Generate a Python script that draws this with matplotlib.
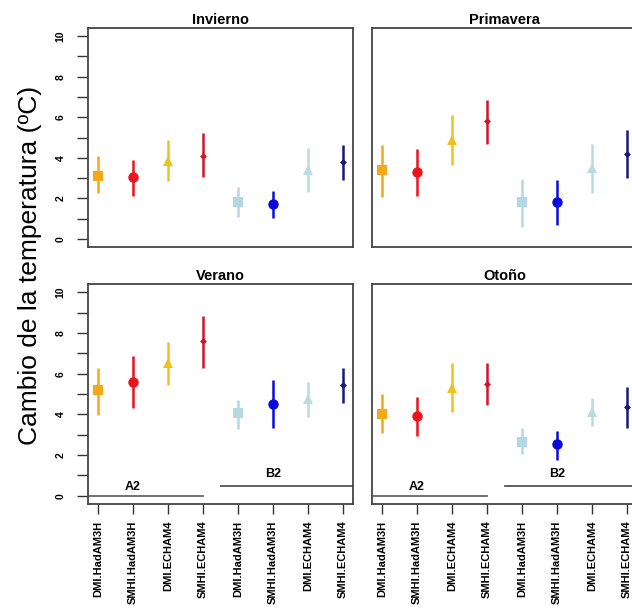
import numpy as np
import matplotlib
matplotlib.use("Agg")
import matplotlib.pyplot as plt

plt.rcParams["font.family"] = ["Liberation Sans", "DejaVu Sans"]

# Models (A2 first four, B2 last four)
models = ["DMI.HadAM3H", "SMHI.HadAM3H", "DMI.ECHAM4", "SMHI.ECHAM4",
          "DMI.HadAM3H", "SMHI.HadAM3H", "DMI.ECHAM4", "SMHI.ECHAM4"]
seasons = ["Invierno", "Primavera", "Verano", "Otoño"]

# central value and range for each season
invierno_mid = [3.1, 3.05, 3.85, 4.1, 1.8, 1.7, 3.4, 3.8]
invierno_lo = [2.25, 2.1, 2.85, 3.05, 1.1, 1.05, 2.3, 2.9]
invierno_hi = [4.1, 3.9, 4.9, 5.2, 2.55, 2.35, 4.5, 4.65]

primavera_mid = [3.4, 3.3, 4.9, 5.8, 1.8, 1.8, 3.5, 4.2]
primavera_lo = [2.05, 2.1, 3.65, 4.7, 0.6, 0.7, 2.25, 3.0]
primavera_hi = [4.65, 4.45, 6.1, 6.85, 2.95, 2.9, 4.7, 5.35]

verano_mid = [5.2, 5.6, 6.5, 7.6, 4.05, 4.5, 4.75, 5.45]
verano_lo = [3.95, 4.3, 5.45, 6.3, 3.3, 3.35, 3.85, 4.55]
verano_hi = [6.3, 6.85, 7.55, 8.85, 4.7, 5.7, 5.6, 6.3]

otono_mid = [4.0, 3.9, 5.3, 5.5, 2.65, 2.55, 4.1, 4.35]
otono_lo = [3.1, 2.95, 4.1, 4.45, 2.05, 1.75, 3.45, 3.35]
otono_hi = [5.0, 4.85, 6.5, 6.5, 3.35, 3.2, 4.8, 5.35]

mids = [invierno_mid, primavera_mid, verano_mid, otono_mid]
los = [invierno_lo, primavera_lo, verano_lo, otono_lo]
his = [invierno_hi, primavera_hi, verano_hi, otono_hi]

colors = ["#F5A818", "#E8141E", "#EEC21A", "#D0142A",
          "#B4D8E2", "#0A0ADC", "#B8DCE0", "#18187A"]
markers = ["s", "o", "^", "D", "s", "o", "^", "D"]
msizes = [6.5, 7.5, 7, 3.5, 6.5, 7.5, 7, 3.5]

W, H = 632, 613
fig = plt.figure(figsize=(W / 100, H / 100), dpi=100)

# panel boxes in pixels: (left, top, right, bottom)
boxes = [(88, 28, 353, 247), (372, 28, 637, 247),
         (88, 284, 353, 504), (372, 284, 637, 504)]

x = np.arange(1, 9)
for i, (l, t, r, b) in enumerate(boxes):
    ax = fig.add_axes([l / W, 1 - b / H, (r - l) / W, (b - t) / H])
    for j in range(8):
        ax.plot([x[j], x[j]], [los[i][j], his[i][j]], color=colors[j],
                lw=1.8, solid_capstyle="butt")
        ax.plot(x[j], mids[i][j], marker=markers[j], color=colors[j],
                ms=msizes[j], mew=0)
    ax.set_xlim(0.72, 8.28)
    ax.set_ylim(-0.4, 10.4)
    ax.set_title(seasons[i], fontsize=10.5, fontweight="bold", pad=3)
    for s in ax.spines.values():
        s.set_color("#444444")
        s.set_linewidth(1.3)

    if i % 2 == 0:
        ax.set_yticks(range(0, 11))
        ax.set_yticklabels([str(v) if v % 2 == 0 else "" for v in range(11)],
                           rotation=90, va="center", fontsize=7.5,
                           fontweight="bold")
        ax.tick_params(axis="y", length=8, width=1, color="#333333", pad=8)
    else:
        ax.set_yticks([])

    if i >= 2:
        ax.set_xticks(x)
        ax.set_xticklabels(models, rotation=90, fontsize=8, fontweight="bold")
        ax.tick_params(axis="x", length=7, width=1, color="#333333", pad=5)
        # scenario lines
        ax.plot([0.72, 4], [0, 0], color="#666666", lw=1.3)
        ax.plot([4.5, 8.28], [0.5, 0.5], color="#555555", lw=1.3)
        ax.text(2, 0.45, "A2", ha="center", va="center", fontsize=9,
                fontweight="bold")
        ax.text(6, 1.05, "B2", ha="center", va="center", fontsize=9,
                fontweight="bold")
    else:
        ax.set_xticks([])

fig.text(30 / W, 1 - 265 / H, "Cambio de la temperatura (ºC)", rotation=90,
         ha="center", va="center", fontsize=19)

fig.savefig("out.png", dpi=100)
